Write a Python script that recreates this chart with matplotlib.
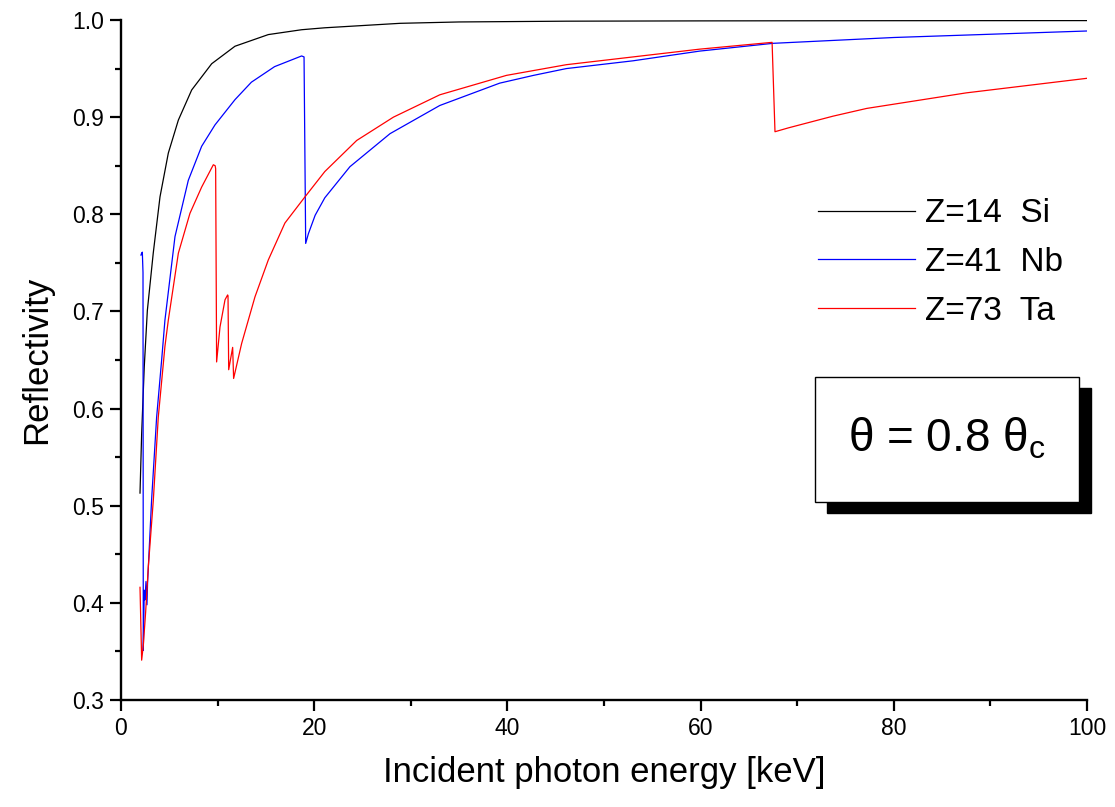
import numpy as np
import matplotlib
matplotlib.use('Agg')
import matplotlib.pyplot as plt
from matplotlib.patches import Rectangle
from matplotlib.ticker import MultipleLocator, FormatStrFormatter

plt.rcParams['font.family'] = ['Liberation Sans', 'DejaVu Sans']

# Reflectivity curves (energy in keV)
si_energy = [1.97, 2.14, 2.41, 2.73, 3.34, 4.04, 4.90, 5.94, 7.32, 9.39, 11.8,
             15.25, 18.7, 21.1, 28.9, 35, 46.1, 60, 80, 100]
si_refl = [0.513, 0.574, 0.643, 0.701, 0.760, 0.818, 0.863, 0.897, 0.928, 0.955,
           0.973, 0.985, 0.990, 0.992, 0.9966, 0.998, 0.9988, 0.9991, 0.9993, 0.9994]

nb_energy = [2.07, 2.14, 2.21, 2.28, 2.31, 2.41, 2.48, 2.59, 2.69, 2.75, 3.17,
             3.69, 4.21, 4.55, 5.59, 6.97, 8.35, 9.73, 11.8, 13.5, 15.9, 18.7,
             18.95, 19.12, 19.4, 20.1, 21.1, 23.7, 27.85, 33.0, 39.2, 42.7, 46.1,
             53.0, 59.9, 67.5, 80, 100]
nb_refl = [0.758, 0.760, 0.761, 0.74, 0.351, 0.413, 0.403, 0.422, 0.398, 0.42, 0.506,
           0.591, 0.650, 0.691, 0.777, 0.835, 0.870, 0.892, 0.918, 0.936, 0.952, 0.963,
           0.962, 0.770, 0.780, 0.799, 0.817, 0.849, 0.883, 0.912, 0.935, 0.943, 0.950,
           0.958, 0.968, 0.976, 0.982, 0.9887]

ta_energy = [1.97, 2.14, 2.31, 2.55, 2.83, 3.35, 3.86, 4.55, 4.90, 5.94, 7.14, 8.35,
             9.56, 9.75, 9.80, 9.9, 10.25, 10.77, 11.04, 11.08, 11.15, 11.56, 11.66,
             12.49, 13.87, 15.25, 16.97, 19.05, 21.1, 24.4, 28.2, 33.0, 39.9, 46.1,
             53.0, 59.9, 67.4, 67.7, 69.1, 73.7, 77.2, 87.5, 100]
ta_refl = [0.416, 0.341, 0.356, 0.39, 0.437, 0.506, 0.591, 0.664, 0.691, 0.760, 0.801,
           0.828, 0.851, 0.850, 0.847, 0.648, 0.684, 0.712, 0.717, 0.716, 0.640, 0.663,
           0.631, 0.667, 0.715, 0.753, 0.791, 0.818, 0.844, 0.876, 0.900, 0.923, 0.943,
           0.954, 0.962, 0.970, 0.977, 0.885, 0.889, 0.901, 0.909, 0.925, 0.940]

labels = ['Z=14  Si', 'Z=41  Nb', 'Z=73  Ta']
colors = ['black', '#0000ff', '#ff0000']

fig = plt.figure(figsize=(11.15, 8.07), dpi=100)
ax = fig.add_axes([0.1085, 0.1326, 0.8664, 0.8426])

for e, r, lab, c in zip([si_energy, nb_energy, ta_energy],
                        [si_refl, nb_refl, ta_refl], labels, colors):
    ax.plot(e, r, color=c, linewidth=0.9, label=lab)

ax.set_xlim(0, 100)
ax.set_ylim(0.3, 1.0)
ax.xaxis.set_major_locator(MultipleLocator(20))
ax.xaxis.set_minor_locator(MultipleLocator(10))
ax.yaxis.set_major_locator(MultipleLocator(0.1))
ax.yaxis.set_minor_locator(MultipleLocator(0.05))
ax.yaxis.set_major_formatter(FormatStrFormatter('%.1f'))

for s in ['top', 'right']:
    ax.spines[s].set_visible(False)
for s in ['left', 'bottom']:
    ax.spines[s].set_linewidth(1.7)
ax.tick_params(which='major', direction='out', length=8, width=1.6, labelsize=16.5, pad=4)
ax.tick_params(which='minor', direction='out', length=4.5, width=1.6)

ax.set_xlabel('Incident photon energy [keV]', fontsize=25, labelpad=12)
ax.set_ylabel('Reflectivity', fontsize=25, labelpad=14)

ax.legend(loc='center left', bbox_to_anchor=(0.7215, 0.6436), frameon=False,
          fontsize=24, handlelength=2.9, handletextpad=0.3, labelspacing=0.53,
          borderpad=0, borderaxespad=0)

# shadowed annotation box
fig.add_artist(Rectangle((0.7414, 0.3639), 0.2368, 0.1549, transform=fig.transFigure,
                         facecolor='black', edgecolor='black'))
fig.add_artist(Rectangle((0.7309, 0.3783), 0.2368, 0.1549, transform=fig.transFigure,
                         facecolor='white', edgecolor='black', linewidth=1))
fig.text(0.7309 + 0.2368 / 2, 0.3783 + 0.1549 / 2, r'θ = 0.8 θ$_\mathregular{c}$',
         fontsize=33, ha='center', va='center')

fig.savefig('out.png', dpi=100)
